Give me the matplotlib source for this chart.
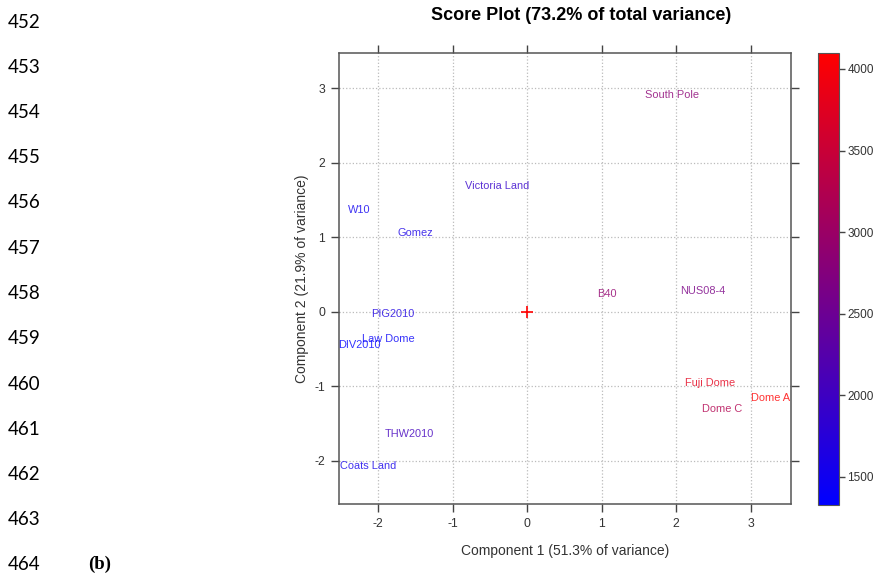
import numpy as np
import matplotlib
matplotlib.use('Agg')
import matplotlib.pyplot as plt
from matplotlib.colors import LinearSegmentedColormap, Normalize
from matplotlib.cm import ScalarMappable

# site names, PCA scores and elevation (m)
sites = ['South Pole', 'Victoria Land', 'W10', 'Gomez', 'B40', 'NUS08-4',
         'PIG2010', 'Law Dome', 'DIV2010', 'THW2010', 'Coats Land',
         'Fuji Dome', 'Dome C', 'Dome A']
pc1 = [1.94, -0.40, -2.25, -1.50, 1.07, 2.35,
       -1.80, -1.86, -2.25, -1.58, -2.13,
       2.46, 2.61, 3.26]
pc2 = [2.91, 1.69, 1.37, 1.06, 0.24, 0.28,
       -0.03, -0.37, -0.45, -1.64, -2.07,
       -0.96, -1.31, -1.16]
elev = [2835, 1900, 1500, 1600, 2900, 2650,
        1650, 1400, 1330, 2050, 1550,
        3800, 3250, 4093]

elev_min, elev_max = 1328, 4098
cbar_ticks = [1500, 2000, 2500, 3000, 3500, 4000]
axis_ticks = [-2, -1, 0, 1, 2, 3]
line_numbers = list(range(452, 465))

plt.rcParams['font.family'] = ['Liberation Sans', 'DejaVu Sans']
plt.rcParams['axes.unicode_minus'] = False

fig = plt.figure(figsize=(8.79, 5.78), dpi=100)
ax = fig.add_axes([0.3857, 0.128, 0.5142, 0.7803])

cmap = LinearSegmentedColormap.from_list('br', ['#0000ff', '#ff0000'])
norm = Normalize(vmin=elev_min, vmax=elev_max)

for name, x, y, e in zip(sites, pc1, pc2, elev):
    ax.text(x, y, name, color=cmap(norm(e)), alpha=0.8, fontsize=7.9,
            ha='center', va='center')

ax.plot([0], [0], marker='+', color='red', markersize=8, mew=1.2)

ax.set_xlim(-2.525, 3.54)
ax.set_ylim(-2.58, 3.47)
ax.set_xticks(axis_ticks)
ax.set_yticks(axis_ticks)
ax.grid(True, linestyle=':', color='#bbbbbb', linewidth=0.9)
ax.tick_params(direction='out', length=6, width=1, color='#444444',
               labelsize=8.8, labelcolor='#333333', pad=4,
               top=True, right=True)
for s in ax.spines.values():
    s.set_color('#555555')
    s.set_linewidth(1.1)

ax.set_xlabel('Component 1 (51.3% of variance)', fontsize=10,
              color='#333333', labelpad=10)
ax.set_ylabel('Component 2 (21.9% of variance)', fontsize=10,
              color='#333333', labelpad=4)
fig.text(0.661, 0.973, 'Score Plot (73.2% of total variance)',
         fontsize=13, fontweight='bold', ha='center', va='center')

# colour scale for elevation
cax = fig.add_axes([0.9306, 0.1263, 0.0239, 0.782])
cb = fig.colorbar(ScalarMappable(norm=norm, cmap=cmap), cax=cax,
                  ticks=cbar_ticks)
cb.outline.set_edgecolor('#555555')
cb.ax.tick_params(length=4, width=1, color='#444444', labelsize=8.5,
                  labelcolor='#333333', pad=2)

# page line numbers and panel tag
for i, n in enumerate(line_numbers):
    fig.text(0.009, 1 - (22 + 45.25 * i) / 578, str(n), fontsize=13.5,
             family='Lato', va='center', ha='left', color='#000000')
fig.text(0.100, 1 - 564 / 578, '(b)', fontsize=13.5, fontweight='bold',
         family='Liberation Serif', va='center', ha='left')

fig.savefig('out.png', dpi=100)
